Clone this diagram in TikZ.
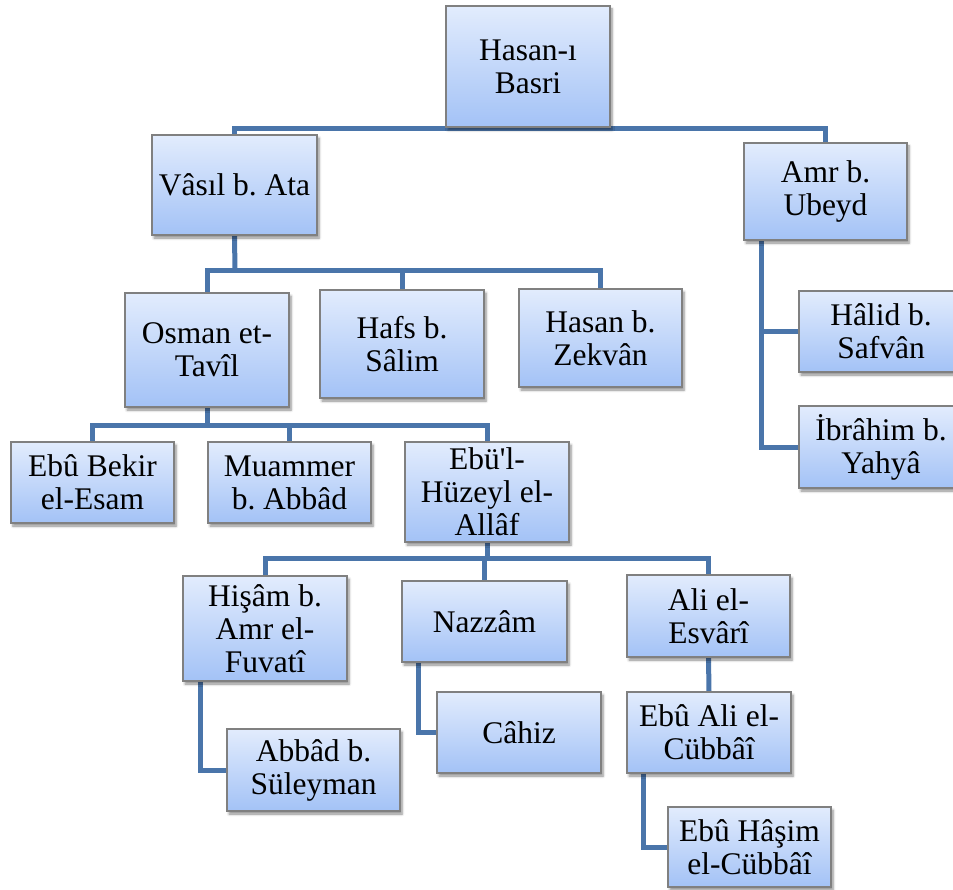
\documentclass[tikz,border=0pt]{standalone}
\usepackage{fontspec}
\setmainfont{Liberation Serif}
\usetikzlibrary{shadows.blur,calc}
\pgfdeclarelayer{background}
\pgfsetlayers{background,main}
\definecolor{conncol}{RGB}{74,117,170}
\definecolor{boxtop}{RGB}{226,236,253}
\definecolor{boxbot}{RGB}{163,194,246}
\definecolor{boxline}{RGB}{128,128,128}
\tikzset{
  box/.style={draw=boxline, line width=1.2pt, top color=boxtop, bottom color=boxbot,
    align=center, inner sep=0pt, minimum width=164pt,
    font=\fontsize{31.5}{33}\selectfont\frenchspacing,
    blur shadow={shadow xshift=2pt, shadow yshift=-3pt, shadow blur steps=6,
      shadow blur radius=2.5pt, shadow opacity=45}},
  conn/.style={draw=conncol, line width=5pt}
}
\begin{document}
\begin{tikzpicture}[x=1pt,y=-1pt]
\useasboundingbox (0,0) rectangle (953,890);
% level 0
\node[box, minimum height=121pt] (hasan) at (528,66.5) {Hasan-ı\\Basri};
% level 1
\node[box, minimum width=165pt, minimum height=100pt] (vasil) at (234.5,185) {Vâsıl b. Ata};
\node[box, minimum width=163pt, minimum height=97pt] (amr) at (825.5,191.5) {Amr b.\\Ubeyd};
% Amr children
\node[box, minimum height=81pt] (halid) at (881,331.5) {Hâlid b.\\Safvân};
\node[box, minimum height=82pt] (ibrahim) at (881,447) {İbrâhim b.\\Yahyâ};
% Vasil children
\node[box, minimum height=114pt] (osman) at (207,350) {Osman et-\\Tavîl};
\node[box, minimum height=108pt] (hafs) at (402,344) {Hafs b.\\Sâlim};
\node[box, minimum width=163pt, minimum height=98pt] (hasanz) at (600.5,338) {Hasan b.\\Zekvân};
% Osman children
\node[box, minimum width=163pt, minimum height=81pt] (ebubekir) at (92.5,482.5) {Ebû Bekir\\el-Esam};
\node[box, minimum width=163pt, minimum height=81pt] (muammer) at (289.5,482.5) {Muammer\\b. Abbâd};
\node[box, minimum height=100pt] (ebul) at (487,492) {Ebü\textquotesingle l-\\Hüzeyl el-\\Allâf};
% Ebul children
\node[box, minimum height=105pt] (hisam) at (265,628.5) {Hişâm b.\\Amr el-\\Fuvatî};
\node[box, minimum width=165pt, minimum height=81pt] (nazzam) at (484.5,621.5) {Nazzâm};
\node[box, minimum width=163pt, minimum height=82pt] (ali) at (708.5,616) {Ali el-\\Esvârî};
% grandchildren
\node[box, minimum width=173pt, minimum height=82pt] (abbad) at (313.5,770) {Abbâd b.\\Süleyman};
\node[box, minimum height=81pt] (cahiz) at (519,732.5) {Câhiz};
\node[box, minimum height=81pt] (ebuali) at (709,732.5) {Ebû Ali el-\\Cübbâî};
\node[box, minimum width=163pt, minimum height=80pt] (ebuhasim) at (749.5,847) {Ebû Hâşim\\el-Cübbâî};

% bus coordinates
\coordinate (b0) at (528,129);
\coordinate (b1) at (235,271);
\coordinate (b2) at (487,425);
\coordinate (b3) at (487,558);
\coordinate (a1) at (761,240);
\coordinate (h1) at (200,681);
\coordinate (n1) at (418,662);
\coordinate (e1) at (643,773);

\begin{pgfonlayer}{background}
\draw[conn] (vasil.north) |- (b0) -| (amr.north);
\draw[conn] (vasil.south) -- (b1);
\draw[conn] (osman.north) |- (b1) -| (hasanz.north);
\draw[conn] (hafs.north) -- (hafs.north |- b1);
\draw[conn] (a1) |- (halid.west);
\draw[conn] (a1) |- (ibrahim.west);
\draw[conn] (osman.south) -- (osman.south |- b2);
\draw[conn] (ebubekir.north) |- (b2) -- (ebul.north);
\draw[conn] (muammer.north) -- (muammer.north |- b2);
\draw[conn] (ebul.south) -- (b3);
\draw[conn] (hisam.north) |- (b3) -| (ali.north);
\draw[conn] (nazzam.north) -- (nazzam.north |- b3);
\draw[conn] (h1) |- (abbad.west);
\draw[conn] (n1) |- (cahiz.west);
\draw[conn] (ali.south) -- (ebuali.north);
\draw[conn] (e1) |- (ebuhasim.west);
\end{pgfonlayer}
\end{tikzpicture}
\end{document}
